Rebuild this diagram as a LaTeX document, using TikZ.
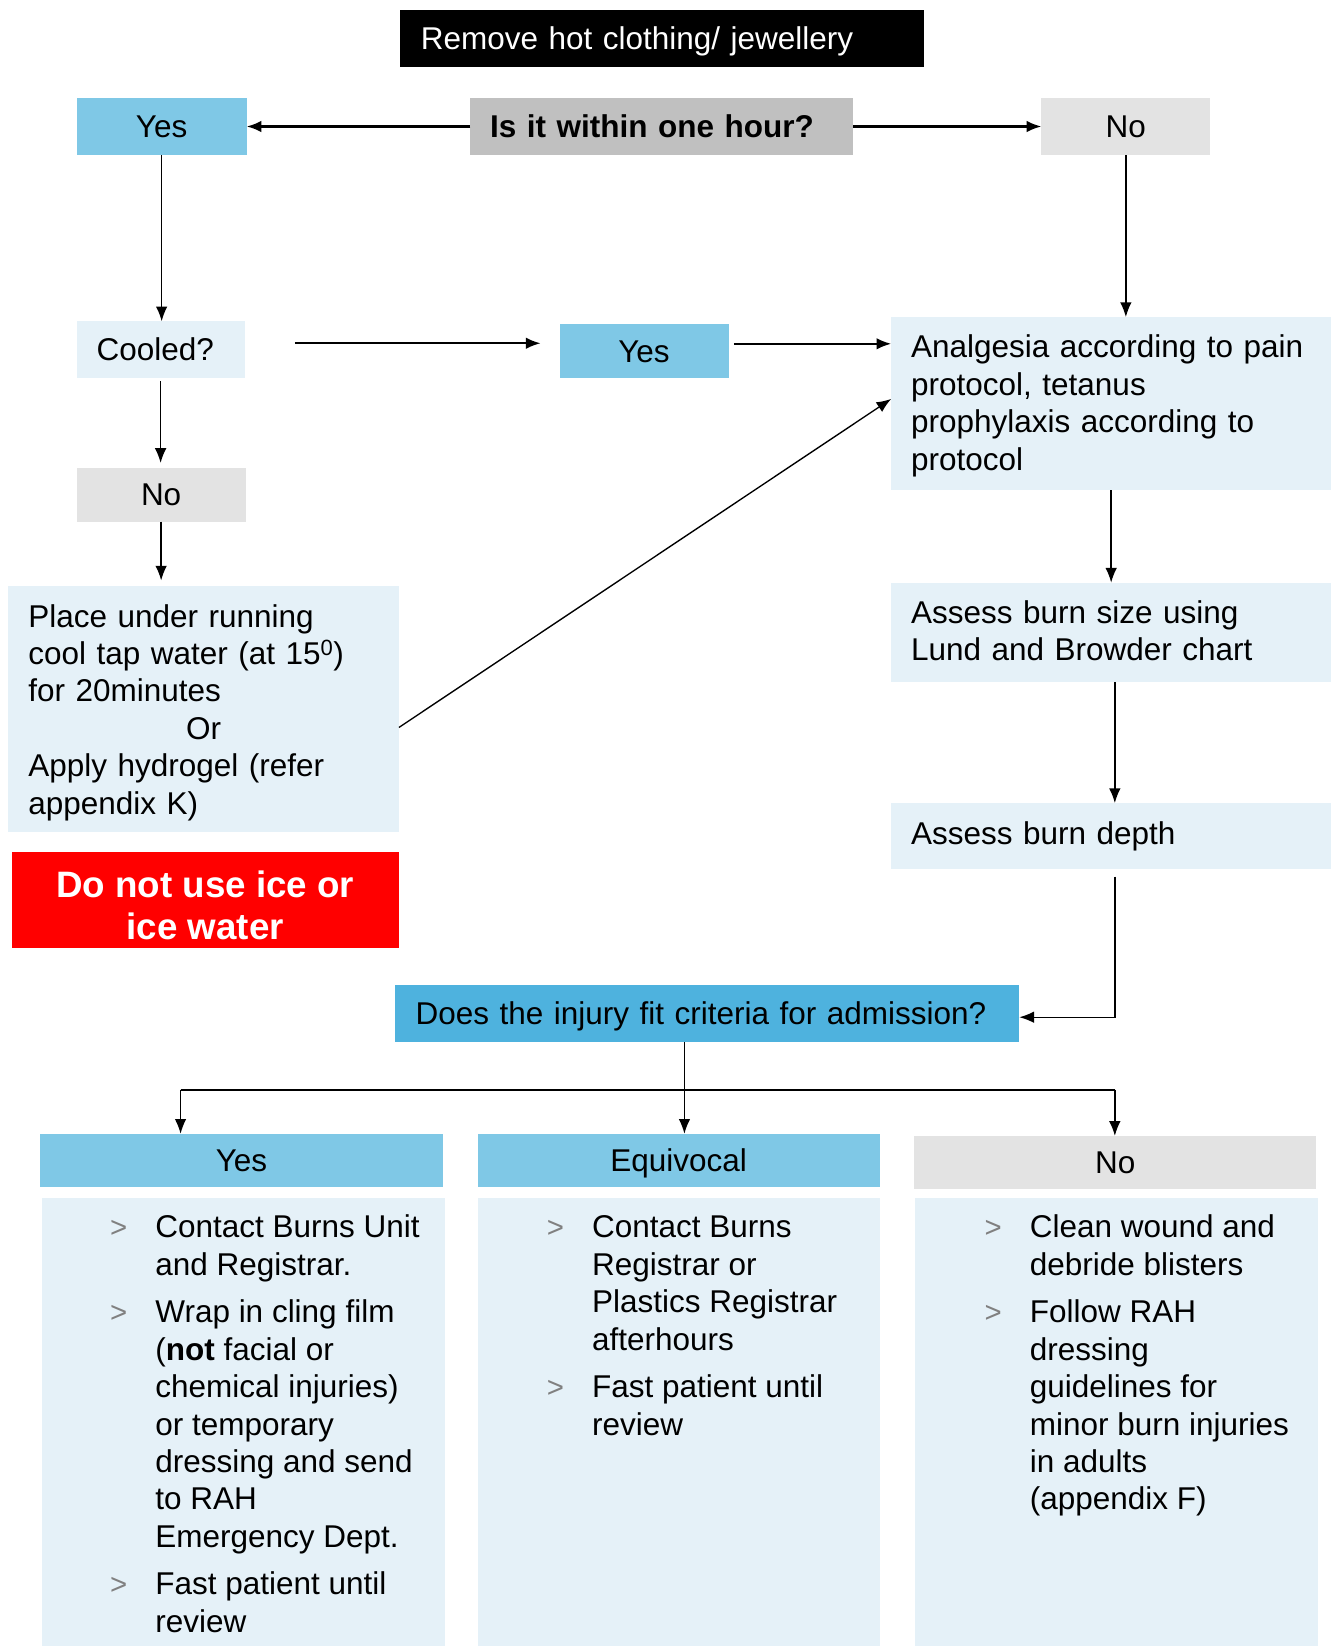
\documentclass[tikz,border=0pt]{standalone}
\usepackage{fontspec}
\setmainfont{Liberation Sans}
\usetikzlibrary{arrows.meta}
\definecolor{hblue}{RGB}{127,200,230}
\definecolor{pale}{RGB}{229,241,248}
\definecolor{lgray}{RGB}{227,227,227}
\definecolor{mgray}{RGB}{192,192,192}
\definecolor{dblue}{RGB}{78,178,222}
\definecolor{bulgray}{RGB}{128,128,128}
\definecolor{alarm}{RGB}{255,0,0}
\newcommand{\bulmark}{\makebox[43pt][l]{\fontsize{28}{28}\selectfont\color{bulgray}>}}
\newcommand{\nobul}{\makebox[43pt]{}}
\begin{document}
\begin{tikzpicture}[x=1pt,y=-1pt,
  every node/.style={font=\fontsize{30}{35.7}\selectfont, inner sep=0pt, outer sep=0pt},
  box/.style={rectangle, anchor=north west},
  cbox/.style={box, align=center},
  lbox/.style={box, align=left, inner xsep=19pt},
  sline/.style={text height=25pt, text depth=4pt},
  arr/.style={-{Latex[length=14pt,width=11pt]}, line width=1.3pt},
  harr/.style={arr, line width=2pt},
]
\useasboundingbox (0,0) rectangle (1270,1568);

% top
\node[box, sline, fill=black, text=white, minimum width=499pt, minimum height=54pt, align=left, inner xsep=20pt, text width=459pt] (remove) at (381,10) {Remove hot clothing/ jewellery};
\node[cbox, sline, fill=hblue, minimum width=162pt, minimum height=55pt] (yes1) at (73,93) {Yes};
\node[lbox, sline, fill=mgray, minimum width=365pt, minimum height=55pt, text width=327pt, font=\fontsize{30}{35.7}\selectfont\bfseries] (q1) at (448,93) {Is it within one hour?};
\node[cbox, sline, fill=lgray, minimum width=161pt, minimum height=55pt] (no1) at (992,93) {No};

% middle
\node[lbox, sline, fill=pale, minimum width=160pt, minimum height=54pt, text width=122pt] (cooled) at (73,306) {Cooled?};
\node[cbox, sline, fill=hblue, minimum width=161pt, minimum height=51pt] (yes2) at (533,309) {Yes};
\node[lbox, fill=pale, minimum width=419pt, minimum height=165pt, text width=381pt] (analg) at (849,302) {\rule{0pt}{26.3pt}Analgesia according to pain\\protocol, tetanus\\prophylaxis according to\\protocol};
\node[cbox, sline, fill=lgray, minimum width=161pt, minimum height=51pt] (no2) at (73,446) {No};
\node[lbox, fill=pale, minimum width=372pt, minimum height=235pt, text width=334pt] (place) at (8,558) {\rule{0pt}{28.3pt}Place under running\\cool tap water (at 15\textsuperscript{0})\\for 20minutes\\\makebox[334pt]{Or}\\Apply hydrogel (refer\\appendix K)};
\node[cbox, fill=alarm, text=white, minimum width=369pt, minimum height=91pt, font=\fontsize{35}{40}\selectfont\bfseries] (ice) at (11,812) {\rule{0pt}{35.5pt}Do not use ice or\\ice water};
\node[lbox, fill=pale, minimum width=419pt, minimum height=95pt, text width=381pt] (size) at (849,555) {Assess burn size using\\Lund and Browder chart\rule[-4pt]{0pt}{4pt}};
\node[lbox, fill=pale, minimum width=419pt, minimum height=63pt, text width=381pt] (depth) at (849,765) {Assess burn depth};
\node[lbox, sline, fill=dblue, minimum width=595pt, minimum height=55pt, text width=555pt, inner xsep=20pt] (adm) at (376,938) {Does the injury fit criteria for admission?};

% headers
\node[cbox, sline, fill=hblue, minimum width=384pt, minimum height=51pt] (hyes) at (38,1080) {Yes};
\node[cbox, sline, fill=hblue, minimum width=383pt, minimum height=51pt] (heq) at (455,1080) {Equivocal};
\node[cbox, sline, fill=lgray, minimum width=383pt, minimum height=51pt] (hno) at (871,1082) {No};

% bodies
\node[box, fill=pale, minimum width=384pt, minimum height=427pt] (byes) at (40,1141) {};
\node[box, fill=pale, minimum width=383pt, minimum height=427pt] (beq) at (455,1141) {};
\node[box, fill=pale, minimum width=384pt, minimum height=427pt] (bno) at (872,1141) {};

\node[anchor=base west] (tyes) at (105,1179) {\begin{tabular}[t]{@{}l@{}l@{}}
\bulmark & Contact Burns Unit\\
\nobul & and Registrar.\\[9.5pt]
\bulmark & Wrap in cling film\\
\nobul & (\textbf{not} facial or\\
\nobul & chemical injuries)\\
\nobul & or temporary\\
\nobul & dressing and send\\
\nobul & to RAH\\
\nobul & Emergency Dept.\\[9.5pt]
\bulmark & Fast patient until\\
\nobul & review
\end{tabular}};
\node[anchor=base west] (teq) at (521,1179) {\begin{tabular}[t]{@{}l@{}l@{}}
\bulmark & Contact Burns\\
\nobul & Registrar or\\
\nobul & Plastics Registrar\\
\nobul & afterhours\\[9.5pt]
\bulmark & Fast patient until\\
\nobul & review
\end{tabular}};
\node[anchor=base west] (tno) at (938,1179) {\begin{tabular}[t]{@{}l@{}l@{}}
\bulmark & Clean wound and\\
\nobul & debride blisters\\[9.5pt]
\bulmark & Follow RAH\\
\nobul & dressing\\
\nobul & guidelines for\\
\nobul & minor burn injuries\\
\nobul & in adults\\
\nobul & (appendix F)
\end{tabular}};

% connectors
\draw[harr] (q1.west) -- (yes1.east);
\draw[harr] (q1.east) -- (no1.west);
\draw[arr] (yes1.south) -- (yes1.south |- cooled.north);
\draw[arr] (no1.south) -- (no1.south |- analg.north);
\draw[harr, shorten <=48pt, shorten >=18pt] ([yshift=6pt]cooled.east) -- ([yshift=6pt]cooled.east -| yes2.west);
\draw[harr, shorten <=5pt] ([yshift=7pt]yes2.east) -- ([yshift=7pt]yes2.east -| analg.west);
\draw[arr, shorten <=3pt, shorten >=5pt] (cooled.south) -- (cooled.south |- no2.north);
\draw[arr, shorten >=5pt] (no2.south) -- (no2.south |- place.north);
\draw[arr] ([yshift=-17.5pt]place.east) -- ([yshift=4.5pt]analg.west);
\draw[arr] (analg.south) -- (analg.south |- size.north);
\draw[arr] ([xshift=3.5pt]size.south) -- ([xshift=3.5pt]size.south |- depth.north);
\draw[arr, shorten <=7pt] ([xshift=3.5pt]depth.south) |- ([yshift=-3.5pt]adm.east);
\coordinate (jl) at (172,1038);
\coordinate (jr) at (1062,1038);
\draw[line width=2pt] (jl) -- (jr);
\draw[arr] (jl) -- (jl |- hyes.north);
\draw[arr] (jr) -- (jr |- hno.north);
\draw[arr] ([xshift=-21.5pt]adm.south) -- ([xshift=-21.5pt]adm.south |- heq.north);
\end{tikzpicture}
\end{document}
